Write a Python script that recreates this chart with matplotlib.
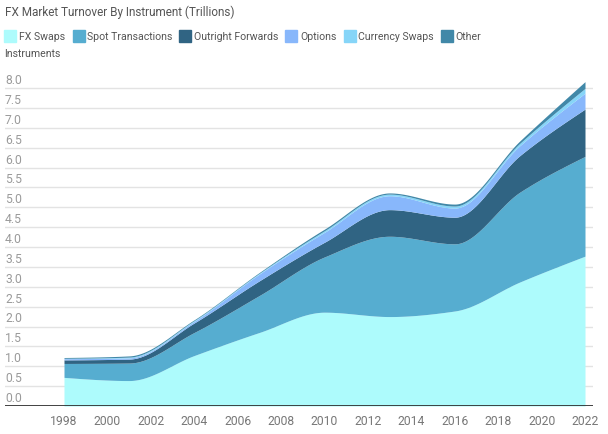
import numpy as np
import matplotlib
matplotlib.use('Agg')
import matplotlib.pyplot as plt
import matplotlib.patches as mpatches
import matplotlib.transforms as mtransforms

plt.rcParams['font.family'] = ['Roboto', 'DejaVu Sans']

# values in trillions
years = [1998, 2001, 2004, 2007, 2010, 2013, 2016, 2019, 2022]
fx_swaps = [0.72, 0.64, 1.27, 1.85, 2.36, 2.25, 2.39, 3.12, 3.77]
spot = [0.35, 0.44, 0.58, 0.93, 1.39, 2.02, 1.69, 2.26, 2.51]
outright_forwards = [0.09, 0.10, 0.24, 0.37, 0.37, 0.67, 0.67, 0.92, 1.19]
options = [0.03, 0.03, 0.04, 0.17, 0.25, 0.35, 0.23, 0.25, 0.40]
currency_swaps = [0.01, 0.02, 0.02, 0.02, 0.04, 0.04, 0.05, 0.06, 0.12]
other = [0.02, 0.03, 0.02, 0.02, 0.04, 0.03, 0.05, 0.06, 0.17]

names = ['FX Swaps', 'Spot Transactions', 'Outright Forwards', 'Options', 'Currency Swaps', 'Other Instruments']
colors = ['#adfbfc', '#56add0', '#306483', '#88b7fb', '#86d5f8', '#4188a8']
xticks = list(range(1998, 2023, 2))
yticks = [i * 0.5 for i in range(17)]


def monotone(x, y, xs):
    # monotone cubic (like d3 curveMonotoneX), only for drawing the smooth edges
    x = np.asarray(x, float)
    y = np.asarray(y, float)
    h = np.diff(x)
    d = np.diff(y) / h
    m = np.zeros_like(y)
    for i in range(1, len(y) - 1):
        if d[i - 1] * d[i] <= 0:
            m[i] = 0
        else:
            m[i] = 3 * (h[i - 1] + h[i]) / ((2 * h[i] + h[i - 1]) / d[i - 1] + (h[i] + 2 * h[i - 1]) / d[i])
    m[0] = (3 * d[0] - m[1]) / 2
    m[-1] = (3 * d[-1] - m[-2]) / 2
    out = np.zeros_like(xs)
    for j, xv in enumerate(xs):
        i = min(np.searchsorted(x, xv, side='right') - 1, len(x) - 2)
        t = (xv - x[i]) / h[i]
        h00 = 2 * t**3 - 3 * t**2 + 1
        h10 = t**3 - 2 * t**2 + t
        h01 = -2 * t**3 + 3 * t**2
        h11 = t**3 - t**2
        out[j] = h00 * y[i] + h10 * h[i] * m[i] + h01 * y[i + 1] + h11 * h[i] * m[i + 1]
    return out


W, H = 608, 435
fig = plt.figure(figsize=(W / 100, H / 100), dpi=100)

y0px, scale = 407, 39.75
ytop = 8.3
ax = fig.add_axes([5 / W, (H - y0px) / H, 588 / W, ytop * scale / H])
ax.set_xlim(1998 - 59 / 21.708, 2022 + 8 / 21.708)
ax.set_ylim(0, ytop)

xs = np.linspace(1998, 2022, 600)
series = [fx_swaps, spot, outright_forwards, options, currency_swaps, other]
cum = np.cumsum(np.array(series), axis=0)
lower = np.zeros_like(xs)
for k in range(len(series)):
    upper = monotone(years, cum[k], xs)
    ax.fill_between(xs, lower, upper, color=colors[k], linewidth=0, zorder=2)
    lower = upper

for v in yticks[1:]:
    ax.axhline(v, color='#e3e3e3', linewidth=1, zorder=1)
ax.axhline(0, color='#333333', linewidth=1.3, zorder=3)

blend = mtransforms.blended_transform_factory(ax.transAxes, ax.transData)
shift = blend + mtransforms.ScaledTranslation(0, 2 / 100, fig.dpi_scale_trans)
for v in yticks:
    ax.text(0, v, '%.1f' % v, transform=shift, ha='left', va='bottom', fontsize=8.7,
            color='#9a9a9a', zorder=4)

ax.set_xticks(xticks)
ax.set_xticklabels([str(t) for t in xticks], fontsize=8.7, color='#777777')
ax.tick_params(axis='x', length=0, pad=6)
ax.set_yticks([])
for s in ax.spines.values():
    s.set_visible(False)

fig.text(5 / W, 1 - 12 / H, 'FX Market Turnover By Instrument (Trillions)', fontsize=8.5,
         color='#555555', ha='left', va='center')

# legend drawn by hand (wraps like the original)
sq = [4, 73, 179, 285, 344, 441]
tx = [19, 87, 194, 300, 358, 455]
labels = ['FX Swaps', 'Spot Transactions', 'Outright Forwards', 'Options', 'Currency Swaps', 'Other']
for k in range(6):
    fig.patches.append(mpatches.Rectangle((sq[k] / W, 1 - 43 / H), 12 / W, 12 / H,
                                          transform=fig.transFigure, color=colors[k]))
    fig.text(tx[k] / W, 1 - 37.5 / H, labels[k], fontsize=7.6, color='#555555', ha='left', va='center')
fig.text(4 / W, 1 - 54 / H, 'Instruments', fontsize=7.6, color='#555555', ha='left', va='center')

fig.savefig('out.png', dpi=100)
